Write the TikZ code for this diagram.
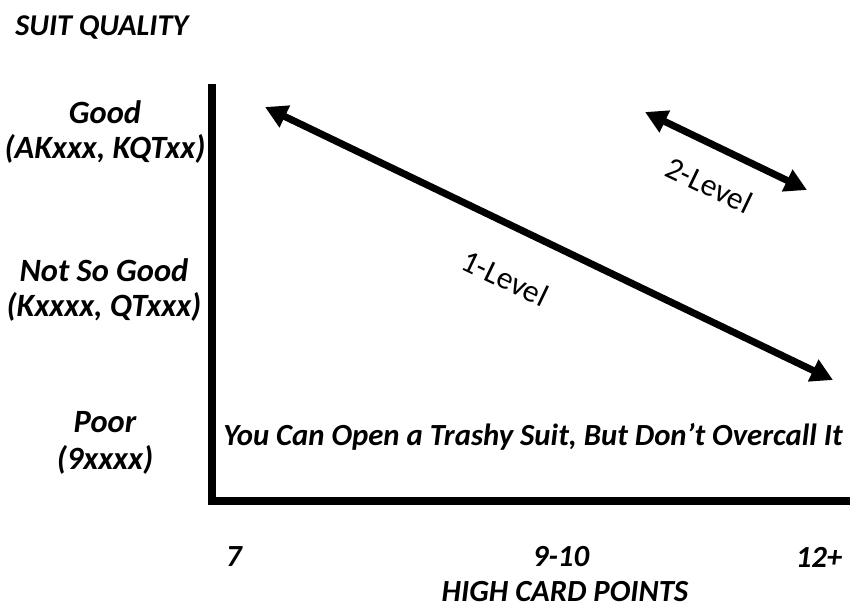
\documentclass[tikz,border=0pt]{standalone}
\usepackage{fontspec}
\setmainfont{Carlito}
\usetikzlibrary{arrows.meta, positioning}

\begin{document}
\begin{tikzpicture}[x=0.02cm, y=-0.02cm,
  axis/.style={line width=4pt, line join=miter},
  lvl/.style={line width=4pt, {Triangle[length=0.44cm, width=0.46cm]}-{Triangle[length=0.44cm, width=0.46cm]}},
  qual/.style={font=\fontsize{18.5}{20}\selectfont\bfseries\itshape, align=center, inner sep=0pt},
  ttl/.style={font=\fontsize{17.2}{20}\selectfont\bfseries\itshape, inner sep=0pt},
  pts/.style={font=\fontsize{17.5}{20}\selectfont\bfseries\itshape, inner sep=0pt},
  lvllbl/.style={font=\fontsize{18}{20}\selectfont, inner sep=0pt, rotate=-25.6},
]
  \useasboundingbox (0,0) rectangle (850,609);

  % axes
  \coordinate (top) at (212,84);
  \coordinate (corner) at (212,501);
  \coordinate (right) at (850,501);
  \draw[axis] (top) -- (corner) -- (right);

  % quality scale
  \node[ttl, anchor=west] (suitqual) at (15,27) {SUIT QUALITY};
  \node[qual] (good) at (105,132) {Good\\(AKxxx, KQTxx)};
  \node[qual] (notsogood) at (104,290) {Not So Good\\(Kxxxx, QTxxx)};
  \node[qual, font=\fontsize{18.5}{21.5}\selectfont\bfseries\itshape] (poor) at (105,443) {Poor\\(9xxxx)};

  % points scale
  \node[pts] (lowpts) at (234,557) {7};
  \node[pts] (midpts) at (561,557) {9-10};
  \node[pts] (highpts) at (819,557) {12+};
  \node[pts] (hcp) at (565,592) {HIGH CARD POINTS};

  \node[pts] (trashy) at (533,437) {You Can Open a Trashy Suit, But Don’t Overcall It};

  % levels
  \coordinate (onestart) at (265,107);
  \coordinate (oneend) at (833,380);
  \draw[lvl] (onestart) -- (oneend);
  \node[lvllbl] (onelvl) at (505,278) {1-Level};

  \coordinate (twostart) at (645,112);
  \coordinate (twoend) at (807,190);
  \draw[lvl] (twostart) -- (twoend);
  \node[lvllbl] (twolvl) at (709,185) {2-Level};
\end{tikzpicture}
\end{document}
